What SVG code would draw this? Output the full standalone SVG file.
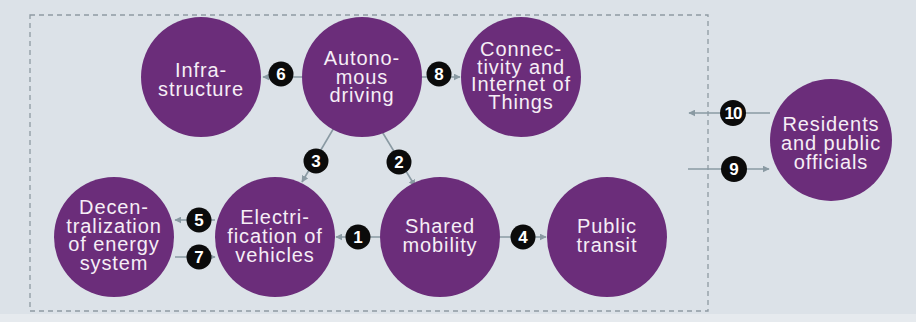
<svg xmlns="http://www.w3.org/2000/svg" width="916" height="322" viewBox="0 0 916 322">
<defs>
<marker id="arr" viewBox="0 0 10 10" refX="9" refY="5" markerWidth="7" markerHeight="7" markerUnits="userSpaceOnUse" orient="auto">
<path d="M0,0 L10,5 L0,10 z" fill="#8a9aa3"/>
</marker>
<style>
.bg{fill:#dce2e8}
.node circle{fill:#6b2d7a}
.node text{fill:#f6eef6;font-family:"Liberation Sans",Arial,sans-serif;font-size:20px;letter-spacing:0.9px;text-anchor:middle}
.conn line{stroke:#8a9aa3;stroke-width:1.6;fill:none;marker-end:url(#arr)}
.badge circle{fill:#0b0b0b}
.badge text{fill:#ffffff;font-family:"Liberation Sans",Arial,sans-serif;font-size:17px;font-weight:bold;text-anchor:middle}
.frame{fill:none;stroke:#8e9aa2;stroke-width:1.3;stroke-dasharray:5 4}
</style>
</defs>
<rect class="bg" x="0" y="0" width="916" height="322"/>
<rect x="0" y="314" width="916" height="8" fill="#e6eaee"/>
<rect class="frame" x="30" y="15" width="678" height="296"/>

<g id="connectors" class="conn">
<line x1="302" y1="77" x2="263" y2="77"/>
<line x1="422" y1="77" x2="460" y2="77"/>
<line x1="335" y1="126" x2="302" y2="182"/>
<line x1="378" y1="125" x2="415" y2="186"/>
<line x1="215" y1="220" x2="175" y2="220"/>
<line x1="175" y1="257" x2="215" y2="257"/>
<line x1="380" y1="237" x2="336" y2="237"/>
<line x1="500" y1="237" x2="546" y2="237"/>
<line x1="770" y1="113" x2="689" y2="113"/>
<line x1="688" y1="169" x2="769" y2="169"/>
</g>

<g id="node-infrastructure" class="node">
<circle cx="201" cy="77" r="60"/>
<text x="201" y="77">Infra-</text>
<text x="201" y="96">structure</text>
</g>
<g id="node-autonomous" class="node">
<circle cx="362" cy="77" r="60"/>
<text x="362" y="65">Autono-</text>
<text x="362" y="84">mous</text>
<text x="362" y="102">driving</text>
</g>
<g id="node-connectivity" class="node">
<circle cx="521" cy="77" r="60"/>
<text x="521" y="56">Connec-</text>
<text x="521" y="73.5">tivity and</text>
<text x="521" y="91">Internet of</text>
<text x="521" y="108.5">Things</text>
</g>
<g id="node-residents" class="node">
<circle cx="831" cy="140" r="61"/>
<text x="831" y="131">Residents</text>
<text x="831" y="150">and public</text>
<text x="831" y="169">officials</text>
</g>
<g id="node-decentralization" class="node">
<circle cx="114" cy="237" r="60"/>
<text x="114" y="214">Decen-</text>
<text x="114" y="232.5">tralization</text>
<text x="114" y="251">of energy</text>
<text x="114" y="269.5">system</text>
</g>
<g id="node-electrification" class="node">
<circle cx="275" cy="237" r="60"/>
<text x="275" y="224">Electri-</text>
<text x="275" y="243">fication of</text>
<text x="275" y="262">vehicles</text>
</g>
<g id="node-shared" class="node">
<circle cx="440" cy="237" r="60"/>
<text x="440" y="233">Shared</text>
<text x="440" y="252">mobility</text>
</g>
<g id="node-public" class="node">
<circle cx="607" cy="237" r="60"/>
<text x="607" y="233">Public</text>
<text x="607" y="252">transit</text>
</g>

<g id="badges" class="badge">
<g id="badge-1"><circle cx="358" cy="237" r="12.5"/><text x="358" y="243">1</text></g>
<g id="badge-2"><circle cx="399" cy="162" r="12.5"/><text x="399" y="168">2</text></g>
<g id="badge-3"><circle cx="316" cy="161" r="12.5"/><text x="316" y="167">3</text></g>
<g id="badge-4"><circle cx="523" cy="237" r="12.5"/><text x="523" y="243">4</text></g>
<g id="badge-5"><circle cx="199" cy="220" r="12.5"/><text x="199" y="226">5</text></g>
<g id="badge-6"><circle cx="281" cy="74" r="12.5"/><text x="281" y="80">6</text></g>
<g id="badge-7"><circle cx="199" cy="257" r="12.5"/><text x="199" y="263">7</text></g>
<g id="badge-8"><circle cx="439" cy="74" r="12.5"/><text x="439" y="80">8</text></g>
<g id="badge-9"><circle cx="734" cy="169" r="13"/><text x="734" y="175">9</text></g>
<g id="badge-10"><circle cx="733" cy="113" r="13"/><text x="733" y="119" style="letter-spacing:-1px">10</text></g>
</g>
</svg>
